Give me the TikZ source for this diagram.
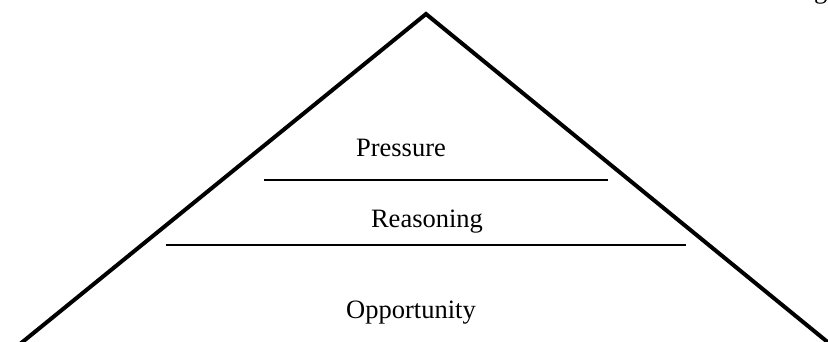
\documentclass[tikz,border=0pt]{standalone}
\usepackage{fontspec}
\setmainfont{Liberation Serif}
\begin{document}
\begin{tikzpicture}[x=1pt,y=-1pt,
  lbl/.style={inner sep=0pt,anchor=base,font=\fontsize{26.5}{30}\selectfont},
  tri/.style={line width=4pt,line join=miter},
  sep/.style={line width=1.6pt}]
\useasboundingbox (0,0) rectangle (828,342);
\clip (0,0) rectangle (828,342);
\coordinate (apex) at (426,14);
\coordinate (bl) at (20,344);
\coordinate (br) at (830,344);
\draw[tri] (bl) -- (apex) -- (br);
\coordinate (p1) at (264,180);
\coordinate (p2) at (608,180);
\coordinate (r1) at (166,245);
\coordinate (r2) at (686,245);
\draw[sep] (p1) -- (p2);
\draw[sep] (r1) -- (r2);
\node[lbl] (pressure) at (401,157) {Pressure};
\node[lbl] (reasoning) at (427,228) {Reasoning};
\node[lbl] (opportunity) at (411,318) {Opportunity};
\node[lbl,anchor=base west] (gfrag) at (814,-1) {g};
\end{tikzpicture}
\end{document}
